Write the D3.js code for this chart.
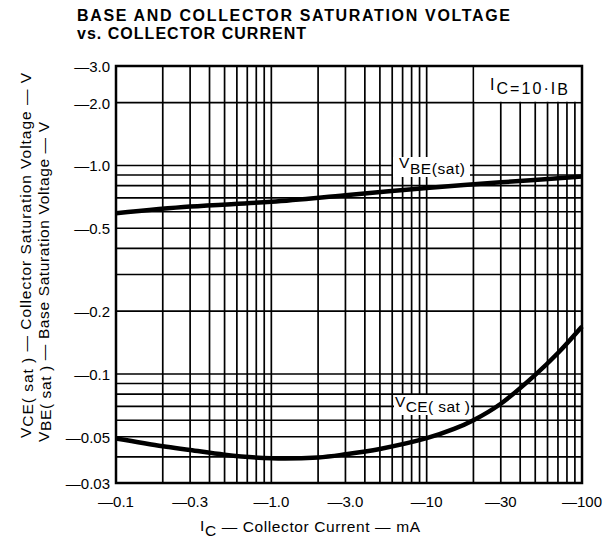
<!DOCTYPE html>
<html>
<head>
<meta charset="utf-8">
<script src="https://cdn.jsdelivr.net/npm/d3@7"></script>
<style>
  body { margin: 0; background: #fff; }
  text { font-family: "Liberation Sans", Arial, Helvetica, sans-serif; fill: #000; }
</style>
</head>
<body>
<div id="chart"></div>
<script>
// Data (mA, V)
const vceCurrent = [0.1, 0.2, 0.3, 0.5, 1, 2, 3, 5, 10, 15, 20, 30, 50, 70, 100];
const vceSat = [0.049, 0.045, 0.0432, 0.041, 0.0394, 0.0398, 0.0412, 0.0437, 0.0492, 0.0545, 0.060, 0.072, 0.099, 0.126, 0.169];

const vbeCurrent = [0.1, 0.3, 1, 3, 10, 30, 100];
const vbeSat = [0.59, 0.635, 0.67, 0.72, 0.78, 0.83, 0.885];

const xTickValues = [0.1, 0.3, 1, 3, 10, 30, 100];
const xTickLabels = ["—0.1", "—0.3", "—1.0", "—3.0", "—10", "—30", "—100"];
const yTickValues = [0.03, 0.05, 0.1, 0.2, 0.5, 1, 2, 3];
const yTickLabels = ["—0.03", "—0.05", "—0.1", "—0.2", "—0.5", "—1.0", "—2.0", "—3.0"];

const drawChart = () => {

  // Dimensions
  const width = 615;
  const height = 542;
  const margin = {top: 66, right: 33, bottom: 59, left: 116};
  const innerWidth = width - margin.left - margin.right;
  const innerHeight = height - margin.top - margin.bottom;

  const svg = d3.select("#chart")
    .append("svg")
      .attr("width", width)
      .attr("height", height);

  svg.append("rect")
    .attr("width", width)
    .attr("height", height)
    .attr("fill", "#fff");

  // Title
  const title = svg.append("g")
    .style("font-size", "16px")
    .style("font-weight", "bold");
  title.append("text").attr("x", 77).attr("y", 21)
    .attr("textLength", 433).attr("lengthAdjust", "spacing")
    .text("BASE AND COLLECTOR SATURATION VOLTAGE");
  title.append("text").attr("x", 77).attr("y", 39)
    .attr("textLength", 229).attr("lengthAdjust", "spacing")
    .text("vs. COLLECTOR CURRENT");

  const innerChart = svg
    .append("g")
      .attr("transform", `translate(${margin.left}, ${margin.top})`);

  // Scales
  const xScale = d3.scaleLog().domain([0.1, 100]).range([0, innerWidth]);
  const yScale = d3.scaleLog().domain([0.03, 3]).range([innerHeight, 0]);

  // Grid (every minor decade tick)
  innerChart.append("g")
    .selectAll("line")
    .data(xScale.ticks())
    .join("line")
      .attr("x1", d => xScale(d))
      .attr("x2", d => xScale(d))
      .attr("y1", 0)
      .attr("y2", innerHeight)
      .attr("stroke", "#000")
      .attr("stroke-width", 1.7);

  innerChart.append("g")
    .selectAll("line")
    .data(yScale.ticks())
    .join("line")
      .attr("x1", 0)
      .attr("x2", innerWidth)
      .attr("y1", d => yScale(d))
      .attr("y2", d => yScale(d))
      .attr("stroke", "#000")
      .attr("stroke-width", 1.7);

  // White label boxes over the grid
  const boxes = [
    {x: xScale(20) + 1, y: 0, w: innerWidth - xScale(20) - 1, h: yScale(2) - 1},
    {x: 277, y: 91, w: 77, h: 20},
    {x: 278, y: 329, w: 77, h: 20}
  ];
  innerChart.append("g")
    .selectAll("rect")
    .data(boxes)
    .join("rect")
      .attr("x", d => d.x)
      .attr("y", d => d.y)
      .attr("width", d => d.w)
      .attr("height", d => d.h)
      .attr("fill", "#fff");

  // Curves
  const line = d3.line()
    .x(d => xScale(d[0]))
    .y(d => yScale(d[1]))
    .curve(d3.curveCatmullRom.alpha(0.5));

  const series = [
    d3.zip(vbeCurrent, vbeSat),
    d3.zip(vceCurrent, vceSat)
  ];
  innerChart.append("g")
    .selectAll("path")
    .data(series)
    .join("path")
      .attr("d", line)
      .attr("fill", "none")
      .attr("stroke", "#000")
      .attr("stroke-width", 4.5);

  // Frame
  innerChart.append("rect")
    .attr("width", innerWidth)
    .attr("height", innerHeight)
    .attr("fill", "none")
    .attr("stroke", "#000")
    .attr("stroke-width", 2.5);

  // Curve labels
  const labelFont = "15.5px";
  const vbeLabel = innerChart.append("text")
    .attr("x", 283).attr("y", 102)
    .attr("textLength", 66).attr("lengthAdjust", "spacing")
    .style("font-size", labelFont);
  vbeLabel.append("tspan").text("V");
  vbeLabel.append("tspan").attr("dy", 6).text("BE(sat)");

  const vceLabel = innerChart.append("text")
    .attr("x", 279).attr("y", 341)
    .attr("textLength", 75).attr("lengthAdjust", "spacing")
    .style("font-size", labelFont);
  vceLabel.append("tspan").text("V");
  vceLabel.append("tspan").attr("dy", 5).text("CE( sat )");

  const icLabel = innerChart.append("text")
    .attr("x", 374).attr("y", 24)
    .attr("textLength", 78).attr("lengthAdjust", "spacing")
    .style("font-size", "16px");
  icLabel.append("tspan").text("I");
  icLabel.append("tspan").attr("dy", 4).text("C");
  icLabel.append("tspan").attr("dy", 0).text("=10·I");
  icLabel.append("tspan").attr("dy", 1).text("B");

  // x tick labels
  innerChart.append("g")
    .selectAll("text")
    .data(xTickValues)
    .join("text")
      .attr("x", d => xScale(d))
      .attr("y", innerHeight + 24)
      .attr("text-anchor", "middle")
      .style("font-size", "15px")
      .text((d, i) => xTickLabels[i]);

  // y tick labels
  innerChart.append("g")
    .selectAll("text")
    .data(yTickValues)
    .join("text")
      .attr("x", -6)
      .attr("y", d => yScale(d))
      .attr("dy", "0.4em")
      .attr("text-anchor", "end")
      .style("font-size", "15px")
      .text((d, i) => yTickLabels[i]);

  // x axis title
  const xTitle = svg.append("text")
    .attr("x", 200).attr("y", 531)
    .attr("textLength", 220).attr("lengthAdjust", "spacing")
    .style("font-size", "15.5px");
  xTitle.append("tspan").text("I");
  xTitle.append("tspan").attr("dy", 5).text("C");
  xTitle.append("tspan").attr("dy", -4).text(" — Collector Current — mA");

  // y axis titles (rotated)
  const yTitles = [
    {x: 31, y: 438, len: 365, sub: "CE( sat )", rest: " — Collector Saturation Voltage — V"},
    {x: 49, y: 442, len: 320, sub: "BE( sat )", rest: " — Base Saturation Voltage — V"}
  ];
  yTitles.forEach(t => {
    const txt = svg.append("text")
      .attr("transform", `translate(${t.x}, ${t.y}) rotate(-90)`)
      .attr("textLength", t.len).attr("lengthAdjust", "spacing")
      .style("font-size", "15.5px");
    txt.append("tspan").text("V");
    txt.append("tspan").attr("dy", 2).text(t.sub);
    txt.append("tspan").attr("dy", -2).text(t.rest);
  });
};

drawChart();
</script>
</body>
</html>
